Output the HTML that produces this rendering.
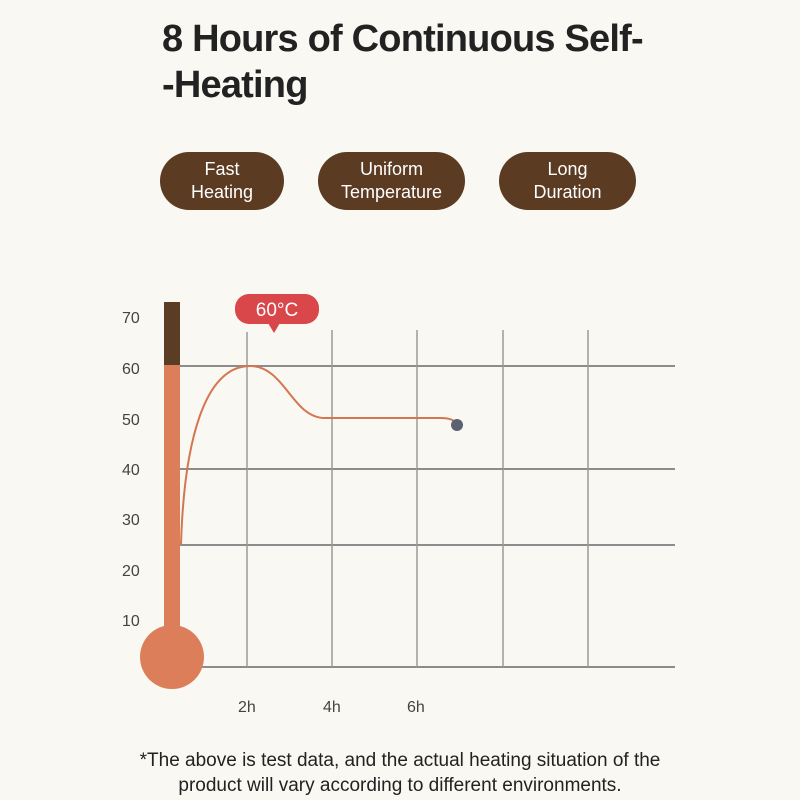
<!DOCTYPE html>
<html><head><style>
body{margin:0;width:800px;height:800px;background:#faf8f2;font-family:"Liberation Sans","DejaVu Sans",sans-serif;position:relative;overflow:hidden}
.t{position:absolute;left:162px;top:16px;font-size:38px;font-weight:bold;color:#222;line-height:46px;letter-spacing:-0.8px}
.p{position:absolute;top:152px;height:58px;border-radius:29px;background:#5b3b22;color:#fff;font-size:18px;line-height:23px;text-align:center;display:flex;align-items:center;justify-content:center}
.n{position:absolute;font-size:19px;color:#222;text-align:center;width:800px;left:0;top:748px;line-height:25px}
</style></head><body>
<div class="t">8 Hours of Continuous Self-<br>-Heating</div>
<div class="p" style="left:160px;width:124px">Fast<br>Heating</div>
<div class="p" style="left:318px;width:147px">Uniform<br>Temperature</div>
<div class="p" style="left:499px;width:137px">Long<br>Duration</div>
<svg width="800" height="800" style="position:absolute;left:0;top:0">
<g stroke="#8c8c8c" stroke-width="2">
<line x1="180" y1="366" x2="675" y2="366"/><line x1="180" y1="469" x2="675" y2="469"/>
<line x1="180" y1="545" x2="675" y2="545"/><line x1="180" y1="667" x2="675" y2="667"/>
</g>
<g stroke="#9a9a9a" stroke-width="1.5">
<line x1="247" y1="332" x2="247" y2="667"/><line x1="332" y1="330" x2="332" y2="667"/>
<line x1="417" y1="330" x2="417" y2="667"/><line x1="503" y1="330" x2="503" y2="667"/>
<line x1="588" y1="330" x2="588" y2="667"/>
</g>
<g font-size="16" fill="#444">
<text x="122" y="323">70</text><text x="122" y="374">60</text><text x="122" y="425">50</text>
<text x="122" y="475">40</text><text x="122" y="525">30</text><text x="122" y="576">20</text><text x="122" y="626">10</text>
<text x="238" y="712">2h</text><text x="323" y="712">4h</text><text x="407" y="712">6h</text>
</g>
<rect x="164" y="302" width="16" height="64" fill="#5a3d24"/>
<rect x="164" y="365" width="16" height="290" fill="#dc7e5a"/>
<circle cx="172" cy="657" r="32" fill="#dc7e5a"/>
<path d="M181,545 C184,440 205,366 250,366 C285,366 292,418 325,418 L440,418 C450,418 455,420 457,425" fill="none" stroke="#d47650" stroke-width="2"/>
<circle cx="457" cy="425" r="6" fill="#5a6272"/>
<rect x="235" y="294" width="84" height="30" rx="14" fill="#d9474a"/>
<polygon points="268,323 280,323 274,333" fill="#d9474a"/>
<text x="277" y="316" font-size="19" fill="#fff" text-anchor="middle">60°C</text>
</svg>
<div class="n">*The above is test data, and the actual heating situation of the<br>product will vary according to different environments.</div>
</body></html>
